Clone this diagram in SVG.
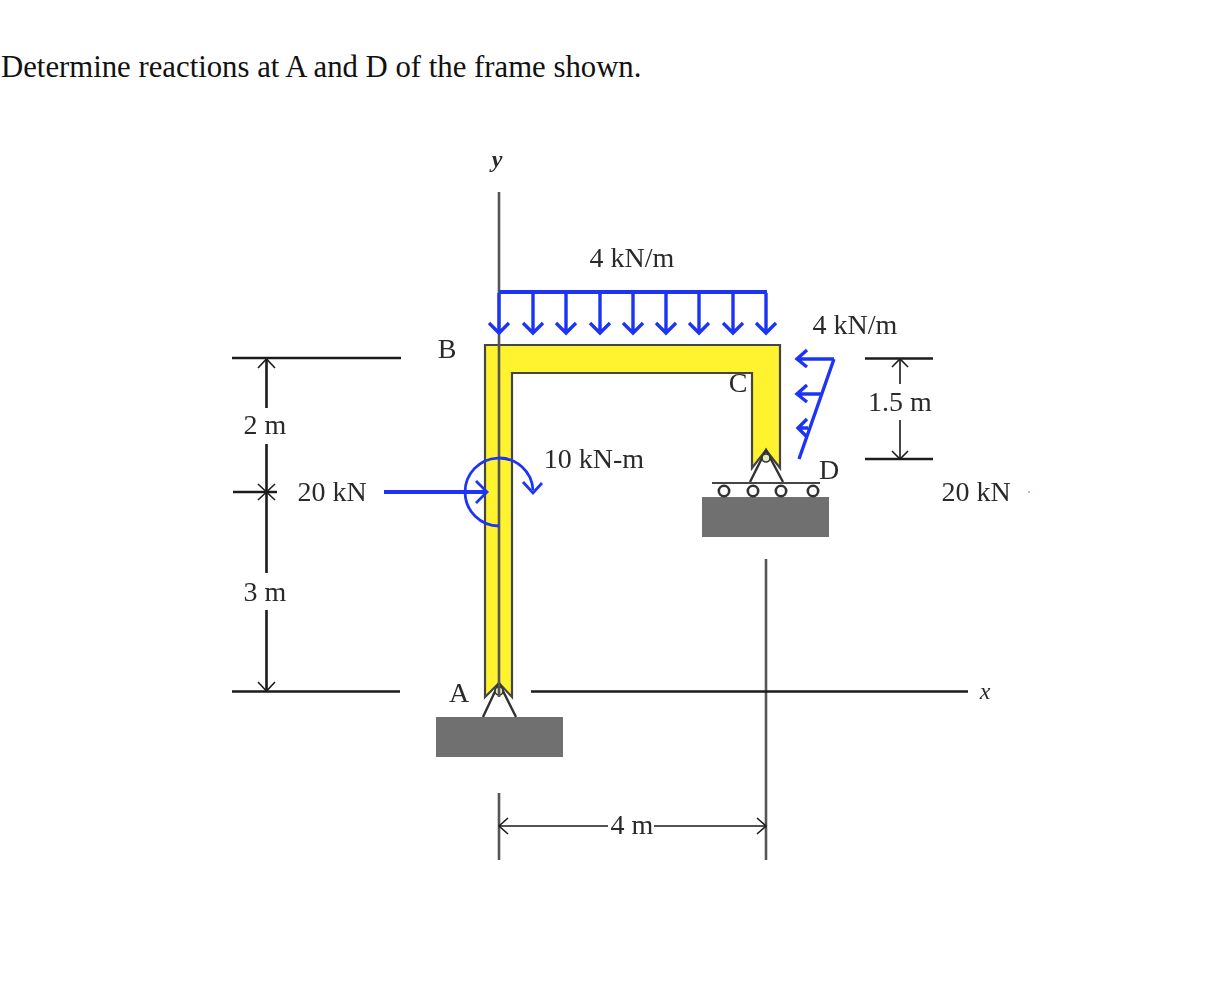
<svg xmlns="http://www.w3.org/2000/svg" width="1206" height="998" viewBox="0 0 1206 998">
<defs>
<style>
.t{font-family:"Liberation Serif","Times New Roman",serif;font-size:28px;fill:#2a2a2a;text-anchor:middle}
.title{font-family:"Liberation Serif","Times New Roman",serif;font-size:30.750px;fill:#111}
.k{stroke:#1c1c1c;stroke-width:2.6;fill:none}
.g{stroke:#555;stroke-width:2.6;fill:none}
.a{stroke:#1c1c1c;stroke-width:1.6;fill:none}
.b{stroke:#1f35f5;stroke-width:3.400;fill:none}
.b2{stroke:#1f35f5;stroke-width:2.800;fill:none}
.s{stroke:#333;stroke-width:2.400;fill:none}
</style>
<filter id="soft" x="-5%" y="-5%" width="110%" height="110%"><feGaussianBlur stdDeviation="0.55"/></filter>
<path id="dn" d="M-10-10 0 0 10-10M0 0V-40" class="b"/>
</defs>
<rect width="1206" height="998" fill="#fff"/>
<text class="title" x="1" y="77">Determine reactions at A and D of the frame shown.</text>
<g filter="url(#soft)">
<g id="frame">
<path d="M485 345H780V468L766 450 752 468V373H512V697L499 683 485 697Z" fill="#fff22e" stroke="#444" stroke-width="2.200"/>
<text class="t" x="738" y="392" fill="#444">C</text>
<text class="t" x="447" y="358">B</text>
</g>
<g id="support-a">
<rect x="436" y="717" width="127" height="40" fill="#707070"/>
<path d="M483 717 499 683 516 717" class="s"/>
<circle cx="499" cy="691" r="4" fill="#e8e8c0" stroke="#333" stroke-width="1.600"/>
<text class="t" x="459" y="702">A</text>
</g>
<g id="support-d">
<rect x="702" y="497" width="127" height="40" fill="#707070"/>
<path d="M750 482 766 450 783 482" class="s"/>
<circle cx="766" cy="458" r="4" fill="#e8e8c0" stroke="#333" stroke-width="1.600"/>
<path d="M712 483H820" stroke="#444" stroke-width="2.200"/>
<g fill="#fff" stroke="#333" stroke-width="2.600"><circle cx="724" cy="491" r="5.200"/><circle cx="753" cy="491" r="5.200"/><circle cx="781" cy="491" r="5.200"/><circle cx="813" cy="491" r="5.200"/></g>
<text class="t" x="829" y="479">D</text>
</g>
<g id="connectors">
<path d="M499 192V697M766 559V860M499 793V860" class="g"/>
<path d="M531 691.500H968M232 358H401M232 691.500H400M233 492H277M266.500 358V408M266.500 444V573M266.500 610V691M865 358.500H933M865 459H933" class="k"/>
<path d="M900 359V384M900 420V459M499 826H608M654 826H766" class="a"/>
<path d="M258 368 266.500 359 275 368M258 682 266.500 691 275 682M258 484 275 500M275 484 258 500M892 367 900 359 908 367M892 451 900 459 908 451M508 818 499 826 508 834M757 818 766 826 757 834" class="a"/>
<path d="M384 492H486" stroke="#1f35f5" stroke-width="4.200" fill="none"/>
<path d="M476 481 487 492 476 503" class="b2"/>
<path d="M499 526A34 34 0 1 1 533 490" class="b2"/>
<path d="M523 482 533 493 542 483" class="b2"/>
<path d="M499 292H767" stroke="#1f35f5" stroke-width="3.800" fill="none"/>
<use href="#dn" x="499" y="333"/><use href="#dn" x="533" y="333"/><use href="#dn" x="566" y="333"/><use href="#dn" x="600" y="333"/><use href="#dn" x="633" y="333"/><use href="#dn" x="666" y="333"/><use href="#dn" x="699" y="333"/><use href="#dn" x="733" y="333"/><use href="#dn" x="766" y="333"/>
<path d="M834 359 799 459M834 359H798M821 394H798M807 350 797 359 807 367M807 385 797 394 807 402M807 419 798 428 807 437M798 428H808" class="b"/>
</g>
<g id="labels">
<text class="t" x="632" y="267">4 kN/m</text>
<text class="t" x="855" y="334">4 kN/m</text>
<text class="t" x="594" y="468">10 kN-m</text>
<text class="t" x="332" y="501">20 kN</text>
<text class="t" x="976" y="501">20 kN</text>
<text class="t" x="265" y="434">2 m</text>
<text class="t" x="265" y="601">3 m</text>
<text class="t" x="900" y="411">1.5 m</text>
<text class="t" x="632" y="834">4 m</text>
<text class="t" x="497" y="167" font-style="italic" font-weight="bold" font-size="24" style="font-size:24px">y</text>
<text class="t" x="985" y="699" font-style="italic" style="font-size:24px">x</text>
</g>
<circle cx="1029" cy="492" r="1" fill="#9aa5f8"/>
</g>
</svg>
